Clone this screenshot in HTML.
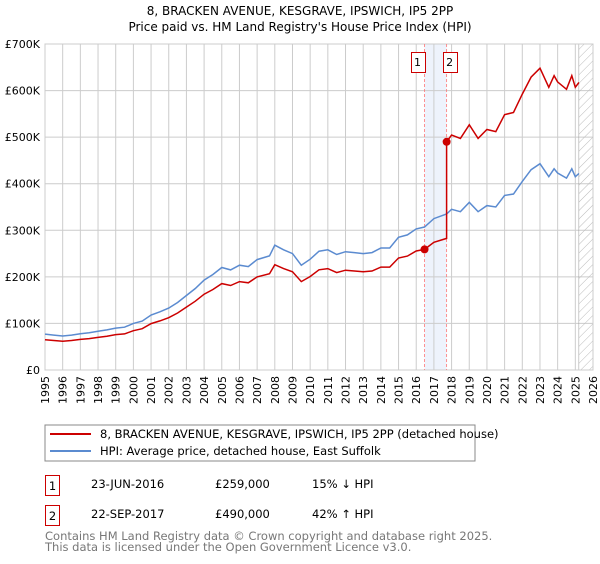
<!DOCTYPE html>
<html><head><meta charset="utf-8"><style>
body{margin:0;background:#fff;font-family:"DejaVu Sans","Liberation Sans",sans-serif;}
svg text{font-family:"DejaVu Sans","Liberation Sans",sans-serif;}
</style></head><body>
<svg id="c" width="600" height="560" xmlns="http://www.w3.org/2000/svg">
<text x="300" y="15" text-anchor="middle" font-size="12">8, BRACKEN AVENUE, KESGRAVE, IPSWICH, IP5 2PP</text>
<text x="300" y="31" text-anchor="middle" font-size="12">Price paid vs. HM Land Registry's House Price Index (HPI)</text>
<defs><pattern id="hatch" width="6" height="6" patternUnits="userSpaceOnUse" patternTransform="rotate(45)"><line x1="0" y1="0" x2="0" y2="6" stroke="#bbb" stroke-width="1"/></pattern></defs>
<g id="plot"></g>
<rect x="45" y="425" width="430" height="36" fill="#fff" stroke="#888"/>
<line x1="50" y1="434" x2="91" y2="434" stroke="#cc0000" stroke-width="2"/>
<text x="100" y="438" font-size="11.5">8, BRACKEN AVENUE, KESGRAVE, IPSWICH, IP5 2PP (detached house)</text>
<line x1="50" y1="451" x2="91" y2="451" stroke="#5b8bd0" stroke-width="2"/>
<text x="100" y="455" font-size="11.5">HPI: Average price, detached house, East Suffolk</text>
<g>
<rect x="45.5" y="475.5" width="14" height="20" fill="#fff" stroke="#cc0000"/>
<text x="52.5" y="490" font-size="11.5" text-anchor="middle">1</text>
<text x="91" y="488" font-size="11.5">23-JUN-2016</text>
<text x="215" y="488" font-size="11.5">£259,000</text>
<text x="312" y="488" font-size="11.5">15% ↓ HPI</text>
</g>
<g>
<rect x="45.5" y="505.5" width="14" height="20" fill="#fff" stroke="#cc0000"/>
<text x="52.5" y="520" font-size="11.5" text-anchor="middle">2</text>
<text x="91" y="518" font-size="11.5">22-SEP-2017</text>
<text x="215" y="518" font-size="11.5">£490,000</text>
<text x="312" y="518" font-size="11.5">42% ↑ HPI</text>
</g>
<text x="45" y="540" font-size="11.5" fill="#777">Contains HM Land Registry data © Crown copyright and database right 2025.</text>
<text x="45" y="551" font-size="11.5" fill="#777">This data is licensed under the Open Government Licence v3.0.</text>
</svg>
<script>
const hpiDates=[1995.0,1995.5,1996.0,1996.5,1997.0,1997.5,1998.0,1998.5,1999.0,1999.5,2000.0,2000.5,2001.0,2001.5,2002.0,2002.5,2003.0,2003.5,2004.0,2004.5,2005.0,2005.5,2006.0,2006.5,2007.0,2007.7,2008.0,2008.5,2009.0,2009.5,2010.0,2010.5,2011.0,2011.5,2012.0,2012.5,2013.0,2013.5,2014.0,2014.5,2015.0,2015.5,2016.0,2016.47,2017.0,2017.72,2018.0,2018.5,2019.0,2019.5,2020.0,2020.5,2021.0,2021.5,2022.0,2022.5,2023.0,2023.5,2023.8,2024.0,2024.5,2024.8,2025.0,2025.2];
const hpiValues=[77,75,73,75,78,80,83,86,90,92,100,105,118,125,133,145,160,175,193,205,220,215,225,222,237,245,268,258,250,225,238,255,258,248,254,252,250,252,262,262,285,290,303,307,325,335,345,340,360,340,353,350,375,378,405,430,443,415,432,423,412,432,415,422];
const saleDates=[2016.47,2017.72];
const salePrices=[259,490];
const yTicks=[0,100,200,300,400,500,600,700];
const yTickLabels=["£0","£100K","£200K","£300K","£400K","£500K","£600K","£700K"];
const xTicks=[1995,1996,1997,1998,1999,2000,2001,2002,2003,2004,2005,2006,2007,2008,2009,2010,2011,2012,2013,2014,2015,2016,2017,2018,2019,2020,2021,2022,2023,2024,2025,2026];
const forecastStart=2025.2;

const L=45,R=593,T=44,B=370;
const X=t=>L+(t-1995)/(2026-1995)*(R-L);
const Y=v=>B-v/700*(B-T);
const NS="http://www.w3.org/2000/svg";
const g=document.getElementById('plot');
function mk(tag,attrs,parent){const e=document.createElementNS(NS,tag);for(const k in attrs)e.setAttribute(k,attrs[k]);(parent||g).appendChild(e);return e;}
function hpiAt(t){for(let i=0;i<hpiDates.length-1;i++){if(t>=hpiDates[i]&&t<=hpiDates[i+1]){const f=(t-hpiDates[i])/(hpiDates[i+1]-hpiDates[i]);return hpiValues[i]+f*(hpiValues[i+1]-hpiValues[i]);}}return hpiValues[hpiValues.length-1];}

const bg=mk('rect',{x:L,y:T,width:R-L,height:B-T,fill:'#fff'});


const shade=mk('rect',{x:X(saleDates[0]),y:T,width:X(saleDates[1])-X(saleDates[0]),height:B-T,fill:'#eef3fc'});


xTicks.forEach(t=>{const l=mk('line',{x1:X(t),x2:X(t),y1:T,y2:B,stroke:'#ccc','stroke-width':1});


const tx=mk('text',{x:0,y:0,'font-size':11,'text-anchor':'end',transform:`translate(${X(t)+4},${B+6}) rotate(-90)`});tx.textContent=t;

});
yTicks.forEach((v,i)=>{const l=mk('line',{x1:L,x2:R,y1:Y(v),y2:Y(v),stroke:'#ccc','stroke-width':1});


const tx=mk('text',{x:L-5,y:Y(v)+4,'font-size':11,'text-anchor':'end'});tx.textContent=yTickLabels[i];

});
const fc=mk('rect',{x:X(forecastStart),y:T,width:R-X(forecastStart),height:B-T,fill:'url(#hatch)',stroke:'#999','stroke-width':0.5});


const ax=mk('rect',{x:L,y:T,width:R-L,height:B-T,fill:'none',stroke:'#ccc'});


saleDates.forEach((d,i)=>{const l=mk('line',{x1:X(d),x2:X(d),y1:T,y2:B,stroke:'#ff7777','stroke-dasharray':'3,2','stroke-width':0.8});

});

let hp=hpiDates.map((t,i)=>(i?'L':'M')+X(t).toFixed(1)+','+Y(hpiValues[i]).toFixed(1)).join('');
const hl=mk('path',{d:hp,fill:'none',stroke:'#5b8bd0','stroke-width':1.5});


const r1=salePrices[0]/hpiAt(saleDates[0]), r2=salePrices[1]/hpiAt(saleDates[1]);
let pts=[];
hpiDates.forEach((t,i)=>{if(t<saleDates[1])pts.push([t,hpiValues[i]*r1]);});
pts.push([saleDates[1],hpiAt(saleDates[1])*r1]);
pts.push([saleDates[1],salePrices[1]]);
hpiDates.forEach((t,i)=>{if(t>saleDates[1])pts.push([t,hpiValues[i]*r2]);});
const pl=mk('path',{d:pts.map((p,i)=>(i?'L':'M')+X(p[0]).toFixed(1)+','+Y(p[1]).toFixed(1)).join(''),fill:'none',stroke:'#cc0000','stroke-width':1.5});


saleDates.forEach((d,i)=>{const c=mk('circle',{cx:X(d),cy:Y(salePrices[i]),r:4,fill:'#cc0000'});


const bx=mk('rect',{x:Math.round(X(d)+(i?-4:-14))+0.5,y:52.5,width:14,height:20,fill:'#fff',stroke:'#cc0000'});


const tx=mk('text',{x:X(d)+(i?3:-7),y:66,'font-size':11,'text-anchor':'middle'});tx.textContent=i+1;

});
</script>
</body></html>
